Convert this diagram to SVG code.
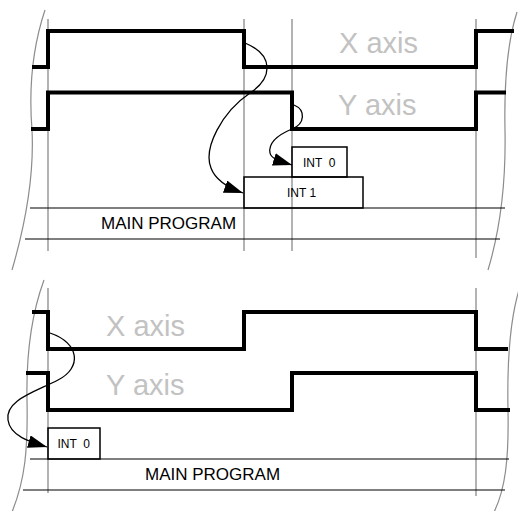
<svg xmlns="http://www.w3.org/2000/svg" width="518" height="511" viewBox="0 0 518 511">
<style>
.grid{stroke:#808080;stroke-width:1.2;fill:none}
.brk{stroke:#8c8c8c;stroke-width:1.2;fill:none}
.hl{stroke:#000;stroke-width:1.2;fill:none}
.sig{stroke:#000;stroke-width:4;fill:none;stroke-linejoin:miter;stroke-linecap:butt}
.box{stroke:#000;stroke-width:1.5;fill:none}
.axis{font-family:"Liberation Sans",Arial,sans-serif;font-size:29px;fill:#c2c2c2}
.lbl{font-family:"Liberation Sans",Arial,sans-serif;font-size:12px;fill:#000}
.main{font-family:"Liberation Sans",Arial,sans-serif;font-size:17px;fill:#000}
.arr{stroke:#000;stroke-width:1.3;fill:none;marker-end:url(#ah)}
</style>
<defs>
<marker id="ah" markerUnits="userSpaceOnUse" markerWidth="20" markerHeight="14" refX="19" refY="6.5" orient="auto">
<path d="M0,0 L19,6.5 L0,13 z" fill="#000"/>
</marker>
</defs>
<rect width="518" height="511" fill="#fff"/>
<g id="top-panel">
<g id="top-frame">
<path class="brk" d="M45,10 C35,40 28,80 32,130 C34,170 28,215 12,270"/>
<path class="brk" d="M517,12 C508,40 504,80 505,130 C506,180 500,230 488,270"/>
<path class="grid" d="M48,19 V251 M244,19 V251 M292,19 V251 M476,19 V258"/>
<path class="hl" d="M30,208 H505 M25,239 H500"/>
</g>
<g id="top-x-signal">
<path class="sig" d="M32,67 H48 V31 H244 V67 H476 V31 H514"/>
<text class="axis" x="339" y="53">X axis</text>
</g>
<g id="top-y-signal">
<path class="sig" d="M31,129 H48 V92.5 H292 V129 H476 V92.5 H506"/>
<text class="axis" x="338" y="115">Y axis</text>
</g>
<g id="top-int0">
<rect class="box" x="292" y="147" width="55" height="30"/>
<text class="lbl" x="303" y="167" xml:space="preserve">INT  0</text>
</g>
<g id="top-int1">
<rect class="box" x="244" y="177" width="119" height="31"/>
<text class="lbl" x="287" y="197">INT 1</text>
</g>
<g id="top-main">
<text class="main" x="101" y="229">MAIN PROGRAM</text>
</g>
</g>
<g id="bottom-panel">
<g id="bottom-frame">
<path class="brk" d="M44,280 C33,310 26,350 27,400 C28,450 25,480 12,512"/>
<path class="brk" d="M519,290 C510,320 507,360 508,410 C509,460 505,490 494,512"/>
<path class="grid" d="M48,288 V493 M476,288 V496"/>
<path class="hl" d="M30,459 H509 M23,490 H505"/>
</g>
<g id="bottom-x-signal">
<path class="sig" d="M32,312 H48 V349 H244 V312 H476 V349 H508"/>
<text class="axis" x="106" y="336">X axis</text>
</g>
<g id="bottom-y-signal">
<path class="sig" d="M26,373 H48 V410 H292 V373 H476 V410 H510"/>
<text class="axis" x="106" y="395">Y axis</text>
</g>
<g id="bottom-int0">
<rect class="box" x="48" y="428" width="52" height="31"/>
<text class="lbl" x="57.5" y="448" xml:space="preserve">INT  0</text>
</g>
<g id="bottom-main">
<text class="main" x="145" y="480">MAIN PROGRAM</text>
</g>
</g>
<g id="connectors">
<path class="arr" d="M245,43 C274,55 273,78 250,93 C222,112 203,148 211,168 C215,179 226,187 243,193"/>
<path class="arr" d="M294,105 C306,110 305,124 292,129 C280,134 268,142 270,153 C271,158 276,160 292,165"/>
<path class="arr" d="M50,333 C80,343 82,368 58,380 C35,392 5,400 8,420 C10,436 30,442 47,447"/>
</g>
</svg>
